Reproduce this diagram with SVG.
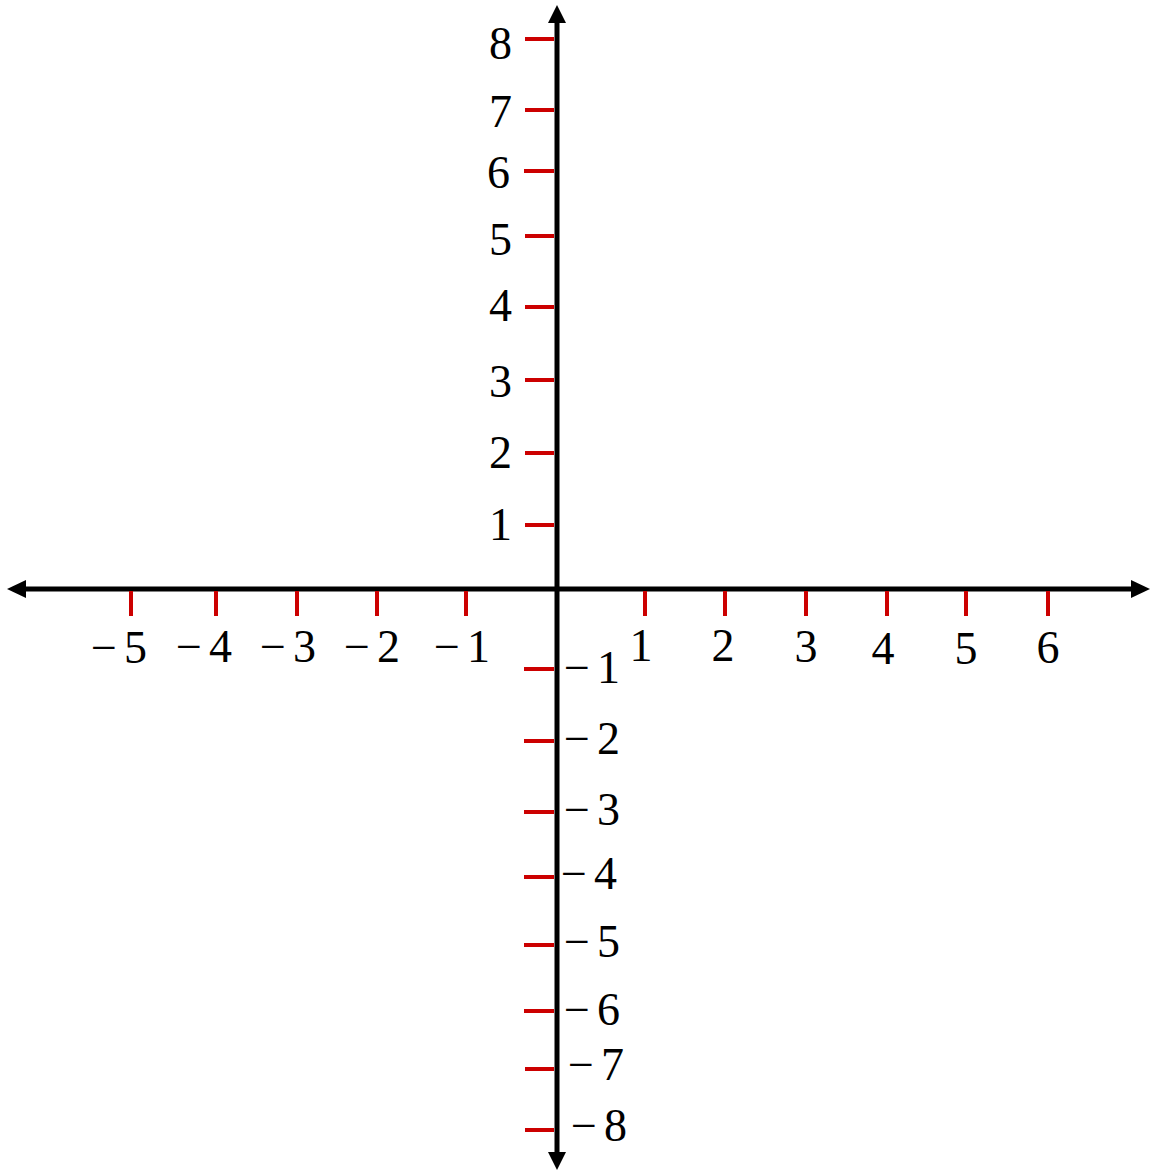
<svg xmlns="http://www.w3.org/2000/svg" width="1152" height="1171" viewBox="0 0 1152 1171">
<style>
.axis{stroke:#000;stroke-width:5;fill:none}
.tick{stroke:#cc0000;stroke-width:4;fill:none}
.lbl{font-family:"Liberation Serif",serif;font-size:46px;fill:#000}
.end{text-anchor:end}
.mid{text-anchor:middle}
</style>
<rect width="1152" height="1171" fill="#fff"/>
<g id="axes">
<line class="axis" x1="22" y1="589" x2="1135" y2="589"/>
<line class="axis" x1="557" y1="20" x2="557" y2="1155"/>
<polygon points="7,589 26,580 26,598" fill="#000"/>
<polygon points="1150,589 1131,580 1131,598" fill="#000"/>
<polygon points="557,5 548,23 566,23" fill="#000"/>
<polygon points="557,1170 548,1152 566,1152" fill="#000"/>
</g>
<g id="x-ticks">
<line class="tick" x1="131" y1="591" x2="131" y2="616"/>
<line class="tick" x1="216" y1="591" x2="216" y2="616"/>
<line class="tick" x1="297" y1="591" x2="297" y2="616"/>
<line class="tick" x1="377" y1="591" x2="377" y2="616"/>
<line class="tick" x1="466" y1="591" x2="466" y2="616"/>
<line class="tick" x1="645" y1="591" x2="645" y2="616"/>
<line class="tick" x1="725" y1="591" x2="725" y2="616"/>
<line class="tick" x1="806" y1="591" x2="806" y2="616"/>
<line class="tick" x1="887" y1="591" x2="887" y2="616"/>
<line class="tick" x1="966" y1="591" x2="966" y2="616"/>
<line class="tick" x1="1048" y1="591" x2="1048" y2="616"/>
</g>
<g id="y-ticks">
<line class="tick" x1="525" y1="39" x2="554" y2="39"/>
<line class="tick" x1="525" y1="110" x2="554" y2="110"/>
<line class="tick" x1="524" y1="171" x2="554" y2="171"/>
<line class="tick" x1="525" y1="236" x2="554" y2="236"/>
<line class="tick" x1="525" y1="307" x2="554" y2="307"/>
<line class="tick" x1="525" y1="380" x2="554" y2="380"/>
<line class="tick" x1="525" y1="453" x2="554" y2="453"/>
<line class="tick" x1="525" y1="525" x2="554" y2="525"/>
<line class="tick" x1="524" y1="669" x2="554" y2="669"/>
<line class="tick" x1="524" y1="741" x2="554" y2="741"/>
<line class="tick" x1="524" y1="812" x2="554" y2="812"/>
<line class="tick" x1="524" y1="877" x2="554" y2="877"/>
<line class="tick" x1="524" y1="945" x2="554" y2="945"/>
<line class="tick" x1="524" y1="1011" x2="554" y2="1011"/>
<line class="tick" x1="525" y1="1069" x2="554" y2="1069"/>
<line class="tick" x1="525" y1="1130" x2="554" y2="1130"/>
</g>
<g id="x-labels">
<text class="lbl" font-family="Liberation Serif" x="91" y="663">−<tspan dx="7">5</tspan></text>
<text class="lbl" font-family="Liberation Serif" x="176" y="662">−<tspan dx="7">4</tspan></text>
<text class="lbl" font-family="Liberation Serif" x="260" y="662">−<tspan dx="7">3</tspan></text>
<text class="lbl" font-family="Liberation Serif" x="344" y="662">−<tspan dx="7">2</tspan></text>
<text class="lbl" font-family="Liberation Serif" x="434" y="662">−<tspan dx="7">1</tspan></text>
<text class="lbl mid" font-family="Liberation Serif" x="641" y="661">1</text>
<text class="lbl mid" font-family="Liberation Serif" x="723" y="661">2</text>
<text class="lbl mid" font-family="Liberation Serif" x="806" y="662">3</text>
<text class="lbl mid" font-family="Liberation Serif" x="883" y="664">4</text>
<text class="lbl mid" font-family="Liberation Serif" x="966" y="664">5</text>
<text class="lbl mid" font-family="Liberation Serif" x="1048" y="663">6</text>
</g>
<g id="y-labels">
<text class="lbl end" font-family="Liberation Serif" x="512" y="59">8</text>
<text class="lbl end" font-family="Liberation Serif" x="512" y="127">7</text>
<text class="lbl end" font-family="Liberation Serif" x="510" y="188">6</text>
<text class="lbl end" font-family="Liberation Serif" x="512" y="255">5</text>
<text class="lbl end" font-family="Liberation Serif" x="512" y="321">4</text>
<text class="lbl end" font-family="Liberation Serif" x="512" y="397">3</text>
<text class="lbl end" font-family="Liberation Serif" x="512" y="468">2</text>
<text class="lbl end" font-family="Liberation Serif" x="512" y="540">1</text>
<text class="lbl" font-family="Liberation Serif" x="564" y="683">−<tspan dx="7">1</tspan></text>
<text class="lbl" font-family="Liberation Serif" x="564" y="754">−<tspan dx="7">2</tspan></text>
<text class="lbl" font-family="Liberation Serif" x="564" y="825">−<tspan dx="7">3</tspan></text>
<text class="lbl" font-family="Liberation Serif" x="561" y="889">−<tspan dx="7">4</tspan></text>
<text class="lbl" font-family="Liberation Serif" x="564" y="957">−<tspan dx="7">5</tspan></text>
<text class="lbl" font-family="Liberation Serif" x="564" y="1025">−<tspan dx="7">6</tspan></text>
<text class="lbl" font-family="Liberation Serif" x="568" y="1080">−<tspan dx="7">7</tspan></text>
<text class="lbl" font-family="Liberation Serif" x="571" y="1141">−<tspan dx="7">8</tspan></text>
</g>
</svg>
